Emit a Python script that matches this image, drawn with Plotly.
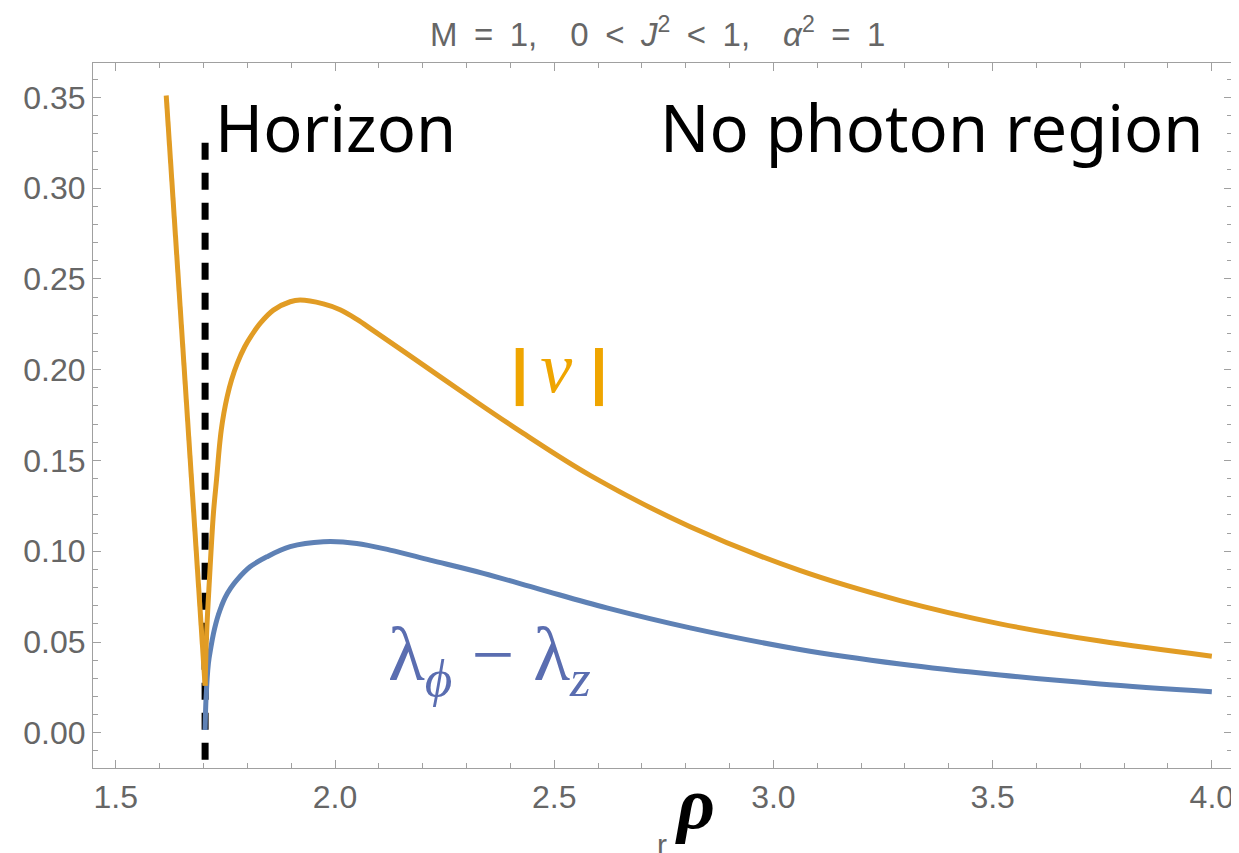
import plotly.graph_objects as go

# horizon position
horizon_rho = 1.7037
horizon_y = [0.325, -0.03]

# |v| : left branch (inside horizon) and right branch
v_left_rho = [1.615, 1.66, 1.7037]
v_left_val = [0.351, 0.186, 0.026]

v_right_rho = [1.7037, 1.7075, 1.7135, 1.7227, 1.7300, 1.7363, 1.7405, 1.7464, 1.7540,
               1.7639, 1.7770, 1.7941, 1.8100, 1.8292, 1.8595, 1.8976, 1.9204, 1.9735,
               2.0116, 2.0500, 2.0876, 2.2017, 2.3157, 2.4297, 2.5819, 2.81, 3.06, 3.289,
               3.517, 3.745, 4.0]
v_right_val = [0.026, 0.0566, 0.0841, 0.1209, 0.1400, 0.1575, 0.1667, 0.1759, 0.1851,
               0.1943, 0.2035, 0.2126, 0.2190, 0.2255, 0.2328, 0.2374, 0.2383, 0.2362,
               0.2330, 0.2277, 0.2215, 0.2025, 0.1834, 0.1649, 0.1418, 0.1135, 0.0894,
               0.0728, 0.0600, 0.0505, 0.0422]

# lambda_phi - lambda_z
lam_rho = [1.7037, 1.706, 1.7112, 1.7170, 1.7227, 1.7280, 1.734, 1.7410, 1.7493, 1.7620,
           1.776, 1.8063, 1.8444, 1.8976, 1.9735, 2.0497, 2.1257, 2.217, 2.3385, 2.4678,
           2.62, 2.81, 3.06, 3.289, 3.517, 3.745, 4.0]
lam_val = [0.0015, 0.0198, 0.0382, 0.0472, 0.0545, 0.0600, 0.0650, 0.0698, 0.0745, 0.0797,
           0.0841, 0.0914, 0.0969, 0.1025, 0.1052, 0.1043, 0.1006, 0.0951, 0.0878, 0.0790,
           0.0688, 0.0578, 0.0459, 0.0379, 0.0318, 0.0269, 0.0226]

x_ticks = [1.5, 2.0, 2.5, 3.0, 3.5, 4.0]
y_ticks = [0.0, 0.05, 0.10, 0.15, 0.20, 0.25, 0.30, 0.35]

ORANGE = "#E19C24"
BLUE = "#5E81B5"

fig = go.Figure()
fig.add_trace(go.Scatter(x=[horizon_rho, horizon_rho], y=horizon_y, mode="lines",
                         line=dict(color="black", width=7, dash="17px,13px"),
                         showlegend=False, hoverinfo="skip"))
fig.add_trace(go.Scatter(x=lam_rho, y=lam_val, mode="lines",
                         line=dict(color=BLUE, width=5, shape="spline", smoothing=1.0),
                         showlegend=False))
fig.add_trace(go.Scatter(x=v_left_rho, y=v_left_val, mode="lines",
                         line=dict(color=ORANGE, width=5), showlegend=False))
fig.add_trace(go.Scatter(x=v_right_rho, y=v_right_val, mode="lines",
                         line=dict(color=ORANGE, width=5, shape="spline", smoothing=1.0),
                         showlegend=False))

axis_common = dict(showgrid=False, zeroline=False, showline=True, linecolor="#a0a0a0",
                   linewidth=1.2, mirror="ticks", ticks="inside", ticklen=8,
                   tickcolor="#a0a0a0", tickwidth=1.2, automargin=False,
                   tickfont=dict(family="Liberation Sans, Arial", size=32, color="#666666"))

fig.update_xaxes(range=[1.448, 4.046], tickvals=x_ticks, tickformat=".1f",
                 minor=dict(dtick=0.1, ticks="inside", ticklen=5, tickcolor="#a0a0a0"),
                 **axis_common)
fig.update_yaxes(range=[-0.0194, 0.3689], tickvals=y_ticks, tickformat=".2f",
                 minor=dict(dtick=0.01, ticks="inside", ticklen=5, tickcolor="#a0a0a0"),
                 **axis_common)

E = "\u2002"
title_text = (f"M{E}={E}1,{E}{E}0{E}&lt;{E}<i>J</i><sup>2</sup>{E}&lt;{E}1,{E}{E}"
              f"<i>α</i><sup>2</sup>{E}={E}1")
bar = '<span style="font-family:Liberation Sans;font-weight:bold;font-size:62px">|</span>'

# page offset: the page body adds 8px; plot area sits at page x 93..1232, y 63..768
annotations = [
    dict(text=title_text,
         xref="paper", yref="paper", x=(657 - 93) / 1139, y=(768 - 32) / 705,
         xanchor="center", yanchor="middle", showarrow=False,
         font=dict(family="Liberation Sans, Arial", size=33, color="#666666")),
    dict(text="Horizon", x=1.7217, y=0.3334, xref="x", yref="y", xanchor="left",
         yanchor="middle", showarrow=False,
         font=dict(family="Noto Sans", size=65, color="black")),
    dict(text="No photon region", x=3.3606, y=0.3334, xref="x", yref="y",
         xanchor="center", yanchor="middle", showarrow=False,
         font=dict(family="Noto Sans", size=65, color="black")),
    dict(text=f"{bar}\u2006<i>v</i>&nbsp;{bar}", x=2.5128, y=0.2008, xref="x", yref="y",
         xanchor="center", yanchor="middle", showarrow=False,
         font=dict(family="Liberation Serif", size=72, color="#EFA500")),
    dict(text="λ<sub><i>ϕ</i></sub> − λ<sub><i>z</i></sub>", x=2.352, y=0.040,
         xref="x", yref="y", xanchor="center", yanchor="middle", showarrow=False,
         font=dict(family="Liberation Serif", size=76, color="#5A6DB0")),
    dict(text="<b><i>ρ</i></b>", x=(695 - 93) / 1139, y=-0.0498, xref="paper",
         yref="paper", xanchor="center", yanchor="middle", showarrow=False,
         font=dict(family="Liberation Serif", size=74, color="black")),
    dict(text="r", x=(662 - 93) / 1139, y=-0.108, xref="paper", yref="paper",
         xanchor="center", yanchor="middle", showarrow=False,
         font=dict(family="Liberation Sans, Arial", size=30, color="#666666")),
]

fig.update_layout(width=1231, height=845, margin=dict(l=85, r=7, t=55, b=85),
                  plot_bgcolor="white", paper_bgcolor="white",
                  annotations=annotations, showlegend=False)

fig.write_html("out.html")
